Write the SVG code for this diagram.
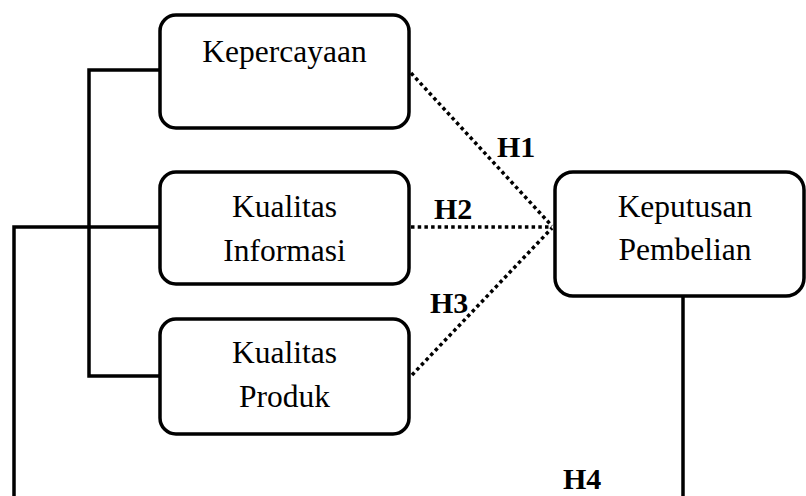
<svg xmlns="http://www.w3.org/2000/svg" width="806" height="496" viewBox="0 0 806 496">
<style>
.box{fill:#fff;stroke:#000;stroke-width:3.5}
.t{font-family:"Liberation Serif","Times New Roman",serif;font-size:31.5px;fill:#000;text-anchor:middle}
.h{font-family:"Liberation Serif","Times New Roman",serif;font-size:30px;font-weight:bold;fill:#000}
.ln{fill:none;stroke:#000;stroke-width:3.5}
.dot{fill:none;stroke:#000;stroke-width:3.5;stroke-dasharray:3.5 3.2}
</style>
<rect width="806" height="496" fill="#fff"/>
<g id="connectors">
<polyline class="ln" points="160,70 89,70 89,376 160,376"/>
<polyline class="ln" points="160,227 14,227 14,496"/>
<line class="ln" x1="683" y1="297" x2="683" y2="496"/>
<line class="dot" x1="411" y1="73" x2="552" y2="226"/>
<line class="dot" x1="411" y1="227" x2="552" y2="227"/>
<line class="dot" x1="412" y1="375" x2="552" y2="228"/>
<text class="h" x="497" y="157">H1</text>
<text class="h" x="434" y="219">H2</text>
<text class="h" x="430" y="313">H3</text>
<text class="h" x="563" y="489">H4</text>
</g>
<g id="kepercayaan">
<rect class="box" x="160" y="15" width="249" height="113" rx="16"/>
<text class="t" x="284.5" y="62">Kepercayaan</text>
</g>
<g id="kualitas-informasi">
<rect class="box" x="160" y="172" width="249" height="112" rx="16"/>
<text class="t" x="284.5" y="217">Kualitas</text>
<text class="t" x="284.5" y="261">Informasi</text>
</g>
<g id="kualitas-produk">
<rect class="box" x="160" y="319" width="249" height="115" rx="16"/>
<text class="t" x="284.5" y="363">Kualitas</text>
<text class="t" x="284.5" y="407">Produk</text>
</g>
<g id="keputusan-pembelian">
<rect class="box" x="555" y="172" width="249" height="124" rx="18"/>
<text class="t" x="685" y="217">Keputusan</text>
<text class="t" x="685" y="260">Pembelian</text>
</g>
</svg>
